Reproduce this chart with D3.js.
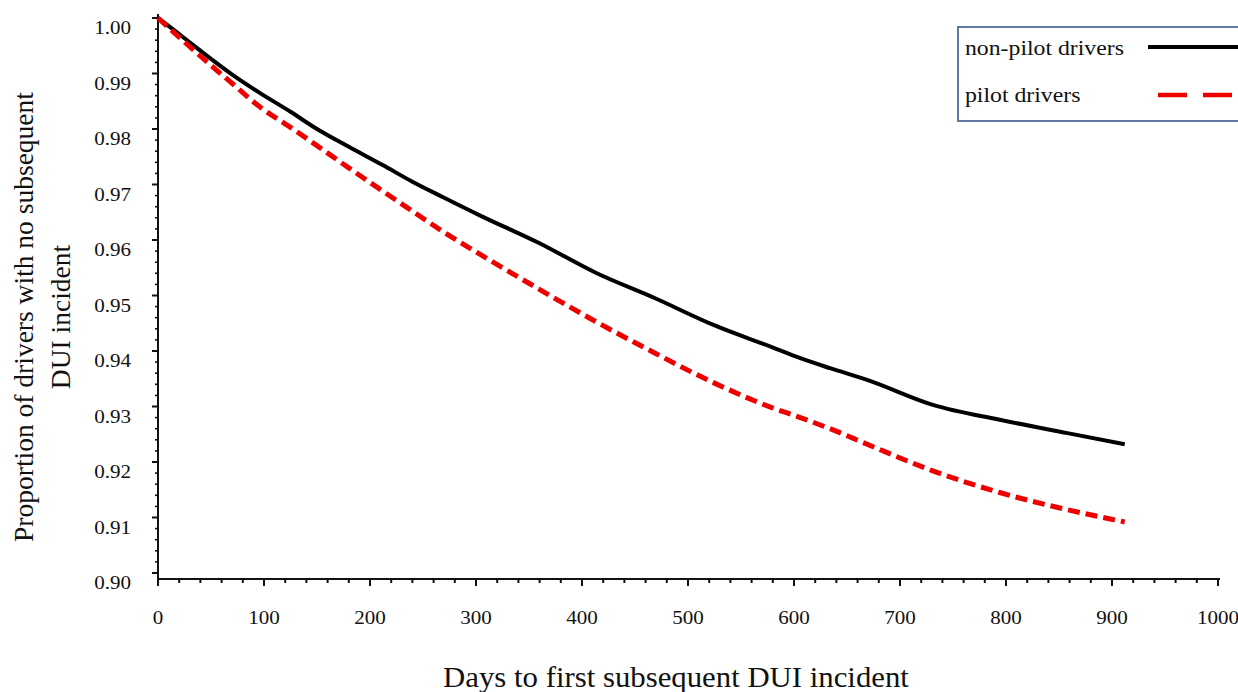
<!DOCTYPE html>
<html><head><meta charset="utf-8">
<script src="https://cdn.jsdelivr.net/npm/d3@7"></script>
<style>body{margin:0;background:#fff;} svg{display:block;} text{font-family:"Liberation Serif","Times New Roman",serif;fill:#111;}</style>
</head><body><svg id="c" width="1238" height="692"></svg>
<script>
const days      = [0, 22, 42, 70, 96, 125, 150, 180, 212, 240, 269, 304, 359, 414, 469, 524, 579, 606, 634, 669, 731, 794, 858, 912];
const nonPilot  = [1.0, 0.9968, 0.9938, 0.9898, 0.9865, 0.9831, 0.9800, 0.9768, 0.9735, 0.9705, 0.9677, 0.9644, 0.9595, 0.9540, 0.9495, 0.9447, 0.9407, 0.9387, 0.9369, 0.9348, 0.9303, 0.9276, 0.9252, 0.9232];
const pilot     = [1.0, 0.9962, 0.9928, 0.9882, 0.9840, 0.9803, 0.9770, 0.9730, 0.9688, 0.9652, 0.9615, 0.9574, 0.9512, 0.9452, 0.9396, 0.9343, 0.9298, 0.9280, 0.9260, 0.9232, 0.9184, 0.9145, 0.9114, 0.9092];
const xTicks    = [0, 100, 200, 300, 400, 500, 600, 700, 800, 900, 1000];
const yTicks    = [0.90, 0.91, 0.92, 0.93, 0.94, 0.95, 0.96, 0.97, 0.98, 0.99, 1.00];
const seriesNames = ["non-pilot drivers", "pilot drivers"];

const svg = d3.select("#c");
const x = d3.scaleLinear().domain([0, 1000]).range([158, 1218]);
const y = d3.scaleLinear().domain([0.90, 1.00]).range([573, 18]);
const axisY = 579;
const SX = 1.08; // horizontal stretch of the original figure's lettering

// x axis
const xMinor = d3.range(0, 1001, 20).filter(v => v % 100 !== 0);
const gx = svg.append("g").attr("transform", `translate(0,${axisY})`);
gx.append("line").attr("x1", x(0)).attr("x2", x(1000) + 2).attr("y1", 0).attr("y2", 0).attr("stroke", "#111").attr("stroke-width", 2);
gx.selectAll(".mj").data(xTicks).join("line").attr("class","mj").attr("x1", d => x(d)).attr("x2", d => x(d)).attr("y1", 0).attr("y2", 7).attr("stroke", "#111").attr("stroke-width", 2);
gx.selectAll(".mn").data(xMinor).join("line").attr("class","mn").attr("x1", d => x(d)).attr("x2", d => x(d)).attr("y1", 0).attr("y2", 4).attr("stroke", "#111").attr("stroke-width", 2);
gx.selectAll(".tl").data(xTicks).join("text").attr("class","tl")
  .attr("transform", d => `translate(${x(d)},45) scale(${SX},1)`)
  .attr("text-anchor", "middle").attr("font-size", 19.5).text(d => d);

// y axis
const yMinor = d3.range(0, 51).map(i => 0.90 + i * 0.002).filter((v, i) => i % 5 !== 0);
const gy = svg.append("g").attr("transform", `translate(${x(0)},0)`);
gy.append("line").attr("x1", 0).attr("x2", 0).attr("y1", 14).attr("y2", axisY + 1).attr("stroke", "#111").attr("stroke-width", 2);
gy.selectAll(".mj").data(yTicks).join("line").attr("class","mj").attr("x1", -6).attr("x2", 0).attr("y1", d => y(d)).attr("y2", d => y(d)).attr("stroke", "#111").attr("stroke-width", 2);
gy.selectAll(".mn").data(yMinor).join("line").attr("class","mn").attr("x1", -3).attr("x2", 0).attr("y1", d => y(d)).attr("y2", d => y(d)).attr("stroke", "#111").attr("stroke-width", 1.6);
gy.selectAll(".tl").data(yTicks).join("text").attr("class","tl")
  .attr("transform", d => `translate(-27,${y(d) + 16}) scale(${SX},1)`)
  .attr("text-anchor", "end").attr("font-size", 19.5).text(d => d3.format(".2f")(d));

// titles
svg.append("text").attr("transform", `translate(676,687) scale(${SX},1)`).attr("text-anchor", "middle").attr("font-size", 28.5).text("Days to first subsequent DUI incident");
const yt = svg.append("text").attr("transform", "translate(0,317) rotate(-90)").attr("text-anchor", "middle").attr("font-size", 27.5);
yt.append("tspan").attr("x", 0).attr("y", 33).text("Proportion of drivers with no subsequent");
yt.append("tspan").attr("x", 0).attr("y", 70).text("DUI incident");

// lines
const line = d3.line().x(d => x(d[0])).y(d => y(d[1])).curve(d3.curveMonotoneX);
svg.append("path").datum(days.map((d, i) => [d, nonPilot[i]])).attr("d", line).attr("fill", "none").attr("stroke", "#000").attr("stroke-width", 4);
svg.append("path").datum(days.map((d, i) => [d, pilot[i]])).attr("d", line).attr("fill", "none").attr("stroke", "#ee0000").attr("stroke-width", 5).attr("stroke-dasharray", "12,6");

// legend
const lg = svg.append("g");
lg.append("rect").attr("x", 958).attr("y", 27).attr("width", 300).attr("height", 94).attr("fill", "#fff").attr("stroke", "#4f6d9c").attr("stroke-width", 1.8);
lg.append("text").attr("transform", `translate(965,55) scale(${SX},1)`).attr("font-size", 22).text(seriesNames[0]);
lg.append("text").attr("transform", `translate(965,102) scale(${SX},1)`).attr("font-size", 22).text(seriesNames[1]);
lg.append("line").attr("x1", 1148).attr("x2", 1240).attr("y1", 47).attr("y2", 47).attr("stroke", "#000").attr("stroke-width", 4);
lg.append("line").attr("x1", 1158).attr("x2", 1240).attr("y1", 95).attr("y2", 95).attr("stroke", "#ee0000").attr("stroke-width", 4.5).attr("stroke-dasharray", "29,16");
</script></body></html>
